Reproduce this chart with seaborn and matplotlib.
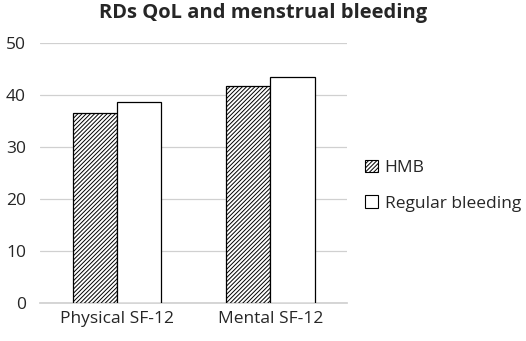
import pandas as pd
import matplotlib
matplotlib.use("Agg")
import matplotlib.pyplot as plt
import seaborn as sns
from matplotlib.patches import Patch

# Values
categories = ["Physical SF-12", "Mental SF-12"]
groups = ["HMB", "Regular bleeding"]
hmb = [36.6, 41.8]
regular = [38.7, 43.5]

df = pd.DataFrame({
    "Measure": categories * 2,
    "Group": [groups[0]] * 2 + [groups[1]] * 2,
    "Score": hmb + regular,
})

sns.set_theme(style="white")
plt.rcParams["font.family"] = ["Open Sans", "DejaVu Sans"]
plt.rcParams["hatch.linewidth"] = 0.7

fig = plt.figure(figsize=(5.26, 3.41), dpi=100)
ax = fig.add_axes([0.076, 0.111, 0.584, 0.763])

sns.barplot(data=df, x="Measure", y="Score", hue="Group", hue_order=groups,
            palette=["white", "white"], width=0.575, edgecolor="black",
            linewidth=0.9, ax=ax, legend=False, zorder=3)

# hatch the HMB bars
for bar in ax.patches[:len(categories)]:
    bar.set_hatch("////////")

ax.set_ylim(0, 50)
ax.set_yticks(range(0, 51, 10))
ax.set_xlim(-0.5, 1.5)
ax.yaxis.grid(True, color="#d0d0d0", linewidth=0.9, zorder=0)
ax.set_axisbelow(True)
for s in ["left", "right", "top"]:
    ax.spines[s].set_visible(False)
ax.spines["bottom"].set_color("#d0d0d0")
ax.tick_params(axis="both", length=0, labelsize=12.5)
ax.tick_params(axis="y", pad=10)
ax.tick_params(axis="x", pad=6)
ax.set_xlabel("")
ax.set_ylabel("")

fig.suptitle("RDs QoL and menstrual bleeding", fontsize=14.5, fontweight="bold",
             x=0.5, y=0.99)

handles = [Patch(facecolor="white", edgecolor="black", hatch="////////", linewidth=0.8),
           Patch(facecolor="white", edgecolor="black", linewidth=0.8)]
fig.legend(handles, groups, loc="center left", bbox_to_anchor=(0.665, 0.455),
           frameon=False, fontsize=12.5, handlelength=0.7, handleheight=0.7,
           handletextpad=0.4, labelspacing=1.1)

fig.savefig("out.png", dpi=100)
